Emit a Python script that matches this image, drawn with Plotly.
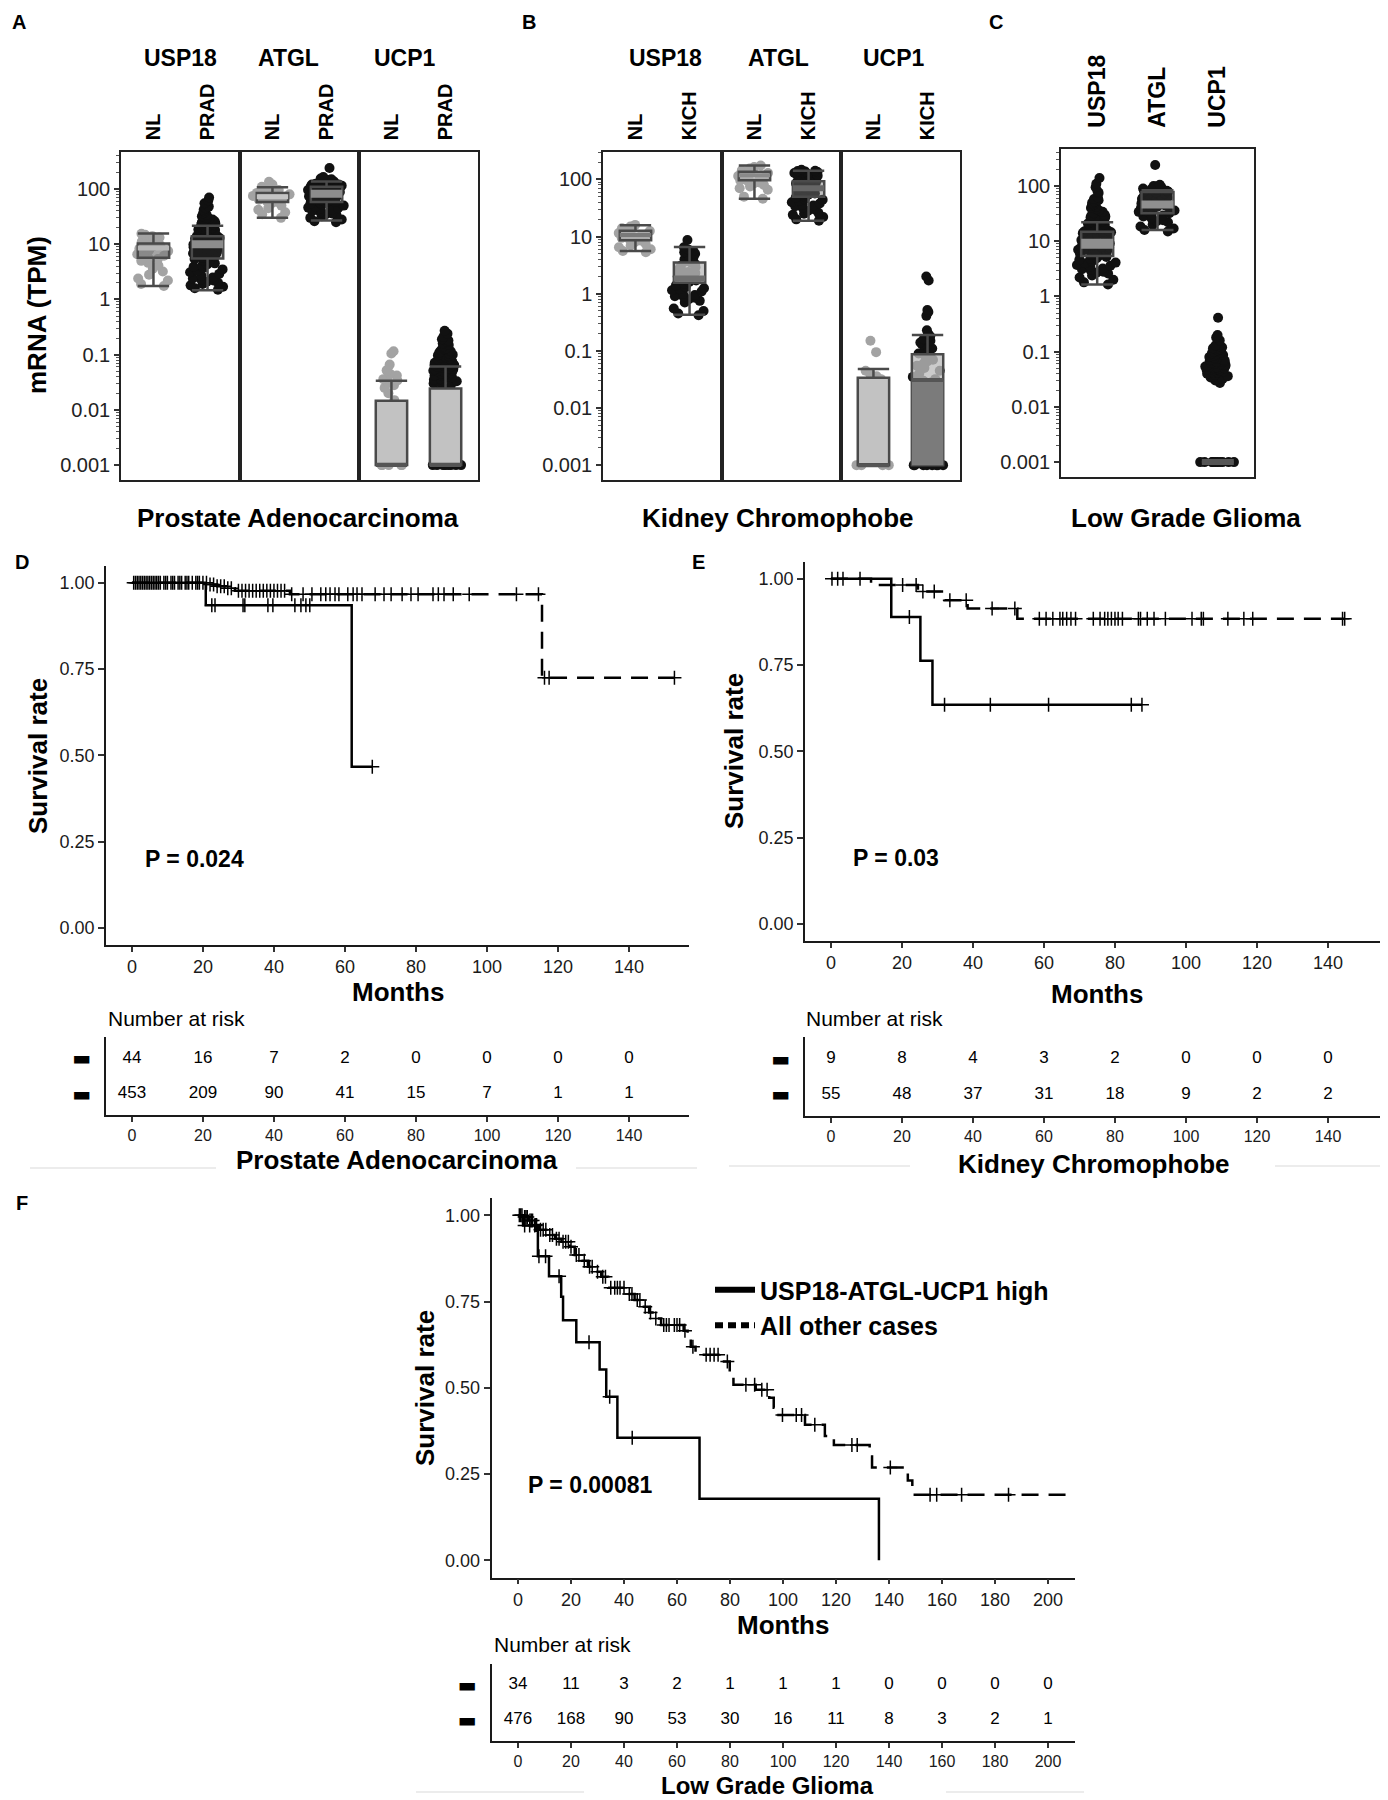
import numpy as np
import plotly.graph_objects as go

W, H = 1388, 1800
FONT = "Liberation Sans, Arial, Helvetica, sans-serif"

# ======================= DATA =======================
# Expression panels (TPM). Box stats = [lower whisker, Q1, median, Q3, upper whisker]
A_USP18_NL_pts = [15.5, 14.8, 14.0, 13.2, 12.5, 12.0, 11.2, 10.5, 10.0, 9.6, 9.2, 8.8, 8.3, 7.9, 7.5, 7.0,
                  6.6, 6.2, 5.8, 5.4, 5.0, 4.6, 4.1, 3.6, 3.2, 2.8, 2.4, 2.2, 1.9, 1.75]
A_USP18_NL_box = [1.75, 5.7, 8.5, 10.3, 15.6]
A_USP18_PRAD_pts = [70, 62, 55, 48, 45, 42, 40, 38, 36, 34, 32, 30, 29, 28, 27, 26, 25, 24, 23, 22,
                    21, 20, 19.5, 19, 18, 17.5, 17, 16, 15.5, 15, 14.5, 14, 13.5, 13, 12.5, 12, 11.5, 11,
                    10.5, 10.2, 10, 9.7, 9.4, 9.1, 8.8, 8.5, 8.2, 8, 7.7, 7.4, 7.1, 6.8, 6.5, 6.2, 6, 5.7,
                    5.4, 5.1, 4.8, 4.5, 4.3, 4.1, 3.9, 3.7, 3.5, 3.3, 3.1, 2.9, 2.7, 2.5, 2.4, 2.3, 2.2,
                    2.1, 2.0, 1.9, 1.8, 1.7, 1.6, 1.5, 12.2, 11.8, 9.9, 8.7, 7.9, 6.9, 14.2, 16.5, 18.5, 5.5]
A_USP18_PRAD_box = [1.46, 5.5, 10.0, 14.0, 21.5]
A_ATGL_NL_pts = [135, 120, 110, 105, 100, 96, 92, 88, 85, 82, 80, 77, 75, 72, 70, 67, 64, 61, 58, 55,
                 50, 45, 42, 38, 35, 30]
A_ATGL_NL_box = [30, 58, 72, 85, 108]
A_ATGL_PRAD_pts = [240, 165, 155, 150, 145, 140, 136, 132, 128, 125, 121, 118, 115, 112, 110, 107, 105,
                   102, 100, 98, 96, 94, 92, 90, 88, 86, 84, 82, 80, 78, 76, 74, 72, 70, 68, 66, 64, 62,
                   60, 58, 56, 54, 52, 50, 48, 46, 44, 42, 40, 38, 36, 34, 32, 30, 28, 26, 25, 130, 120,
                   110, 100, 95, 85, 75, 65, 55, 45, 35]
A_ATGL_PRAD_box = [27, 58, 82, 110, 136]
A_UCP1_NL_pts = [0.115, 0.105, 0.066, 0.052, 0.045, 0.042, 0.038, 0.036, 0.034, 0.031, 0.028, 0.025,
                 0.02, 0.015, 0.01, 0.005, 0.001, 0.001, 0.001, 0.001, 0.001]
A_UCP1_NL_box = [0.001, 0.001, 0.001, 0.0146, 0.0337]
A_UCP1_PRAD_pts = [0.27, 0.24, 0.21, 0.19, 0.18, 0.17, 0.16, 0.15, 0.14, 0.13, 0.125, 0.12, 0.115, 0.11,
                   0.105, 0.1, 0.097, 0.094, 0.09, 0.087, 0.084, 0.081, 0.078, 0.075, 0.072, 0.07, 0.068,
                   0.066, 0.064, 0.062, 0.06, 0.058, 0.056, 0.054, 0.052, 0.05, 0.048, 0.046, 0.044,
                   0.042, 0.04, 0.038, 0.036, 0.034, 0.032, 0.03, 0.028, 0.026, 0.024, 0.022, 0.02,
                   0.035, 0.045, 0.055, 0.065, 0.041, 0.051, 0.061, 0.071, 0.033, 0.039,
                   0.001, 0.001, 0.001, 0.001, 0.001, 0.001, 0.001, 0.001]
A_UCP1_PRAD_box = [0.001, 0.001, 0.001, 0.0245, 0.061]

B_USP18_NL_pts = [16, 15, 14, 13.2, 12.5, 12, 11.5, 11, 10.5, 10, 9.5, 9, 8.5, 8, 7.5, 7, 6.5, 6, 5.6, 5.3]
B_USP18_NL_box = [5.6, 8.6, 10.7, 12.7, 15.8]
B_USP18_KICH_pts = [8.7, 6.5, 6.0, 5.6, 5.3, 5.0, 4.6, 4.3, 4.0, 3.7, 3.5, 3.3, 3.1, 2.9, 2.7, 2.5, 2.4,
                    2.3, 2.2, 2.1, 2.0, 1.9, 1.8, 1.7, 1.6, 1.5, 1.4, 1.3, 1.2, 1.15, 1.1, 1.0, 0.95, 0.9,
                    0.85, 0.8, 0.75, 0.7, 0.55, 0.5, 0.45, 0.42, 5.8, 1.25, 0.88]
B_USP18_KICH_box = [0.43, 1.55, 1.85, 3.5, 6.6]
B_ATGL_NL_pts = [175, 165, 155, 145, 138, 130, 122, 115, 110, 105, 100, 96, 92, 88, 85, 80, 75, 70, 66, 50, 46]
B_ATGL_NL_box = [46, 97, 118, 136, 175]
B_ATGL_KICH_pts = [148, 142, 138, 135, 132, 128, 125, 120, 115, 112, 108, 105, 100, 96, 92, 88, 85, 82,
                   78, 75, 72, 69, 66, 63, 60, 57, 54, 51, 48, 45, 42, 40, 38, 36, 34, 32, 30, 28, 26, 25,
                   24, 22, 20, 19, 140, 130, 118, 98, 44, 35]
B_ATGL_KICH_box = [19, 50, 70, 93, 142]
B_UCP1_NL_pts = [0.15, 0.095, 0.045, 0.04, 0.036, 0.034, 0.032, 0.03, 0.001, 0.001, 0.001, 0.001]
B_UCP1_NL_box = [0.001, 0.001, 0.001, 0.0337, 0.048]
B_UCP1_KICH_pts = [2.0, 1.7, 0.52, 0.48, 0.41, 0.23, 0.2, 0.18, 0.16, 0.15, 0.14, 0.13, 0.12, 0.11, 0.1,
                   0.095, 0.09, 0.085, 0.08, 0.07, 0.065, 0.06, 0.055, 0.05, 0.045, 0.04, 0.035, 0.032,
                   0.03, 0.028, 0.026, 0.025, 0.001, 0.001, 0.001, 0.001, 0.001, 0.001, 0.001, 0.001]
B_UCP1_KICH_box = [0.001, 0.001, 0.031, 0.087, 0.19]

C_USP18_pts = [140, 110, 95, 80, 75, 62, 58, 55, 52, 50, 48, 46, 44, 42, 40, 38, 36, 34, 32, 30, 29, 28,
               27, 26, 25, 24, 23, 22, 21, 20, 19, 18, 17, 16.5, 16, 15.5, 15, 14.5, 14, 13.5, 13, 12.5,
               12, 11.5, 11, 10.5, 10, 9.7, 9.4, 9.1, 8.8, 8.5, 8.2, 7.9, 7.6, 7.3, 7, 6.7, 6.4, 6.1,
               5.8, 5.5, 5.2, 4.9, 4.6, 4.3, 4.0, 3.7, 3.4, 3.2, 3.0, 2.8, 2.6, 2.4, 2.2, 2.0, 1.8, 1.65,
               14.8, 12.8, 11.2, 9.9, 8.9, 7.7, 6.9, 6.2, 5.6, 4.8, 4.1, 3.6, 3.1, 2.7, 18.5, 16.8]
C_USP18_box = [1.65, 5.4, 9.0, 14.8, 22]
C_ATGL_pts = [240, 105, 100, 96, 92, 88, 85, 82, 79, 76, 73, 70, 67, 64, 61, 58, 56, 54, 52, 50, 48, 46,
              44, 42, 40, 38, 36, 34, 32, 30, 28, 26, 24, 22, 20, 18.5, 17, 16, 15, 98, 90, 80, 70, 62,
              55, 47, 41, 35, 29, 23]
C_ATGL_box = [16, 32, 46, 78, 84]
C_UCP1_pts = [0.41, 0.2, 0.18, 0.16, 0.13, 0.125, 0.12, 0.115, 0.11, 0.105, 0.1, 0.097, 0.094, 0.09,
              0.087, 0.084, 0.08, 0.077, 0.074, 0.071, 0.068, 0.065, 0.062, 0.06, 0.058, 0.056, 0.054,
              0.052, 0.05, 0.048, 0.046, 0.044, 0.042, 0.04, 0.038, 0.036, 0.034, 0.032, 0.03, 0.027,
              0.055, 0.05, 0.045, 0.065, 0.07, 0.041, 0.047, 0.053, 0.059, 0.035,
              0.001, 0.001, 0.001, 0.001, 0.001, 0.001, 0.001, 0.001, 0.001, 0.001]
C_UCP1_box = [0.001, 0.001, 0.001, 0.001, 0.001]

LOG_TICKVALS = [0.001, 0.01, 0.1, 1, 10, 100]
LOG_TICKTEXT = ["0.001", "0.01", "0.1", "1", "10", "100"]

# Survival panels: step curves (time in months, survival), censor times
D_high_t = [0, 20.8, 61.9, 67.7]
D_high_s = [1.0, 0.935, 0.467, 0.467]
D_high_c = [22.5, 23.4, 31.3, 31.8, 38.3, 39.7, 45.9, 47.6, 49.0, 50.1, 67.7]
D_other_t = [0, 21.5, 24, 26.5, 29, 44.5, 115.5, 152.8]
D_other_s = [1.0, 0.995, 0.99, 0.984, 0.977, 0.967, 0.725, 0.725]
D_other_c = [0.5, 1, 1.5, 2, 2.5, 3, 3.5, 4, 4.5, 5, 5.5, 6, 6.5, 7, 7.5, 8, 9, 9.5, 10, 11, 11.5, 12,
             13, 13.5, 14, 15, 15.5, 16, 17, 18, 18.5, 19, 20, 21, 22, 23, 24, 25, 26, 27, 28, 30, 31,
             32, 33, 34, 35, 36, 37, 38, 39, 40, 41, 42, 43, 45, 48.2, 50.7, 53.2, 54.6, 55.8, 57.2,
             58.3, 60.8, 62.3, 63.4, 64.8, 68.5, 71.0, 73.0, 76.1, 78.6, 80.6, 84.8, 86.3, 87.9, 90.5,
             95.0, 108.3, 114.5, 116.2, 117.5, 152.8]
D_risk_times = [0, 20, 40, 60, 80, 100, 120, 140]
D_risk_high = [44, 16, 7, 2, 0, 0, 0, 0]
D_risk_other = [453, 209, 90, 41, 15, 7, 1, 1]

E_high_t = [0, 17.0, 25.2, 28.6, 87.6]
E_high_s = [1.0, 0.889, 0.762, 0.635, 0.635]
E_high_c = [22.1, 32.0, 44.9, 61.3, 84.6, 87.6]
E_other_t = [0, 11.3, 24.5, 32, 38.5, 52.5, 144.7]
E_other_s = [1.0, 0.982, 0.963, 0.938, 0.914, 0.884, 0.884]
E_other_c = [0.3, 1.9, 3.4, 8.2, 20.2, 24.0, 25.9, 29.1, 33.5, 38.1, 45.4, 51.8, 58.7, 60.6, 62.5, 64.5,
             65.3, 66.4, 67.6, 68.9, 73.9, 75.8, 77.1, 78.0, 79.0, 80.0, 80.9, 82.1, 86.6, 87.2, 89.1,
             91.0, 94.2, 101.7, 104.3, 104.9, 111.8, 116.3, 118.8, 144.1, 144.7]
E_risk_times = [0, 20, 40, 60, 80, 100, 120, 140]
E_risk_high = [9, 8, 4, 3, 2, 0, 0, 0]
E_risk_other = [55, 48, 37, 31, 18, 9, 2, 2]

F_high_t = [0, 1.9, 7.5, 11.7, 16.3, 17.0, 22.0, 30.8, 33.3, 37.5, 68.5, 136.2]
F_high_s = [1.0, 0.970, 0.881, 0.823, 0.764, 0.696, 0.632, 0.553, 0.474, 0.355, 0.178, 0.0]
F_high_c = [2.5, 4.4, 6.3, 7.9, 10.4, 15.5, 26.8, 34.6, 43.1]
F_other_t = [0, 2, 4, 6.3, 8, 11.3, 14, 16.4, 19.5, 21.4, 24, 26.4, 29, 31.4, 34, 41.5, 44, 47, 49.5,
             51.6, 54, 62.5, 64, 65.2, 67, 76.2, 79.9, 81.3, 89.7, 94.8, 96.5, 97.7, 108.3, 115.8,
             119.2, 132.7, 133.6, 147.1, 148.8, 210]
F_other_s = [1.0, 0.995, 0.985, 0.972, 0.958, 0.943, 0.932, 0.923, 0.909, 0.885, 0.868, 0.851, 0.836,
             0.822, 0.790, 0.772, 0.754, 0.735, 0.718, 0.701, 0.682, 0.665, 0.640, 0.619, 0.596, 0.576,
             0.541, 0.509, 0.494, 0.471, 0.442, 0.421, 0.393, 0.360, 0.334, 0.301, 0.269, 0.231, 0.190,
             0.190]
F_other_c = [0.5, 1, 1.5, 2.5, 3, 3.5, 4.5, 5, 5.5, 6.5, 7, 8.5, 9.5, 10.5, 12, 13, 14.5, 15.5, 17, 18,
             19, 20, 22, 23, 25, 27, 28, 30, 32, 33, 35, 36.5, 37.5, 38.5, 40, 42, 43, 45, 46, 48, 50,
             52, 55, 56, 57, 59, 60, 61, 63, 66, 71, 72.5, 74, 75.5, 79, 86, 89.3, 92, 94, 99.8, 105,
             107, 112, 126, 128, 140.5, 155.5, 158, 167.4, 185.1]
F_risk_times = [0, 20, 40, 60, 80, 100, 120, 140, 160, 180, 200]
F_risk_high = [34, 11, 3, 2, 1, 1, 1, 0, 0, 0, 0]
F_risk_other = [476, 168, 90, 53, 30, 16, 11, 8, 3, 2, 1]

# ======================= HELPERS =======================
def px(x):
    return x / W


def py(y):
    return 1 - y / H


def refs(n):
    return ("x", "y") if n == 1 else (f"x{n}", f"y{n}")


def keys(n):
    return ("xaxis", "yaxis") if n == 1 else (f"xaxis{n}", f"yaxis{n}")


fig = go.Figure()
layout = dict(width=W, height=H, margin=dict(l=0, r=0, t=0, b=0, pad=0),
              paper_bgcolor="white", plot_bgcolor="white", boxmode="overlay",
              font=dict(family=FONT, color="black"))
annotations = []
shapes = []


def ann(text, x, y, size, bold=True, xanchor="center", yanchor="middle", angle=0, **kw):
    d = dict(text=f"<b>{text}</b>" if bold else text, x=px(x), y=py(y), xref="paper", yref="paper",
             showarrow=False, xanchor=xanchor, yanchor=yanchor, textangle=angle,
             font=dict(size=size, family=FONT, color="black"))
    d.update(kw)
    annotations.append(d)


WHISK = "#4a4a4a"
NL_PT = "#a3a3a3"
TU_PT = "#111111"


def add_group(n, pos, pts, stats, ptcol, fill, band, bandw, boxw, lowfill=None):
    xr, yr = refs(n)
    fig.add_trace(go.Box(x=[pos] * len(pts), y=pts, boxpoints="all", jitter=1.0, pointpos=0,
                         width=boxw + 0.16, fillcolor="rgba(0,0,0,0)",
                         line=dict(width=0, color="rgba(0,0,0,0)"),
                         marker=dict(color=ptcol, size=10), xaxis=xr, yaxis=yr,
                         showlegend=False, hoverinfo="skip"))
    lo, q1, med, q3, hi = stats
    fig.add_trace(go.Box(x=[pos], q1=[q1], median=[med], q3=[q3], lowerfence=[lo], upperfence=[hi],
                         width=boxw, whiskerwidth=1, fillcolor=fill,
                         line=dict(color=WHISK, width=2.5), boxpoints=False,
                         xaxis=xr, yaxis=yr, showlegend=False, hoverinfo="skip"))
    if lowfill is not None:
        fig.add_trace(go.Box(x=[pos], q1=[q1], median=[q1], q3=[med], lowerfence=[q1], upperfence=[med],
                             width=boxw, whiskerwidth=0, fillcolor=lowfill,
                             line=dict(color="rgba(0,0,0,0)", width=0), boxpoints=False,
                             xaxis=xr, yaxis=yr, showlegend=False, hoverinfo="skip"))
    fig.add_trace(go.Scatter(x=[pos - boxw / 2, pos + boxw / 2], y=[med, med], mode="lines",
                             line=dict(color=band, width=bandw), xaxis=xr, yaxis=yr,
                             showlegend=False, hoverinfo="skip"))


MINOR_VALS = [k * 10.0 ** d for d in range(-3, 3) for k in range(2, 10)]


def expr_axes(n, x0, x1, ytop, ybot, yrange, cats, catfont, catlen, first):
    xk, yk = keys(n)
    xr, yr = refs(n)
    ncat = len(cats)
    layout[xk] = dict(domain=[px(x0), px(x1)], anchor=yr, range=[0.4, ncat + 0.6], side="top",
                      tickmode="array", tickvals=list(range(1, ncat + 1)),
                      ticktext=[f"<b>{c}</b>" for c in cats], tickangle=-90,
                      tickfont=dict(size=catfont, family=FONT, color="black"),
                      ticks="outside", ticklen=catlen, tickcolor="rgba(0,0,0,0)",
                      showline=True, mirror=True, linecolor="#222", linewidth=1.5,
                      showgrid=False, zeroline=False, fixedrange=True)
    yd = dict(domain=[py(ybot), py(ytop)], anchor=xr, type="log", range=yrange,
              showline=True, mirror=True, linecolor="#222", linewidth=1.5,
              showgrid=False, zeroline=False, tickmode="array",
              tickvals=LOG_TICKVALS, ticktext=LOG_TICKTEXT, fixedrange=True)
    if first:
        yd.update(ticks="outside", ticklen=5, tickwidth=1.5, tickcolor="#333", showticklabels=True,
                  tickfont=dict(size=20, family=FONT, color="#222"),
                  minor=dict(ticks="outside", ticklen=3, tickwidth=1, tickcolor="#555",
                             tickvals=MINOR_VALS))
    else:
        yd.update(ticks="", showticklabels=False)
    layout[yk] = yd


# ---------------- Panel A ----------------
A_RANGE = [-3.27, 2.67]
A_facets = [(113, 232), (232, 351), (351, 470)]
A_data = [(A_USP18_NL_pts, A_USP18_NL_box, A_USP18_PRAD_pts, A_USP18_PRAD_box),
          (A_ATGL_NL_pts, A_ATGL_NL_box, A_ATGL_PRAD_pts, A_ATGL_PRAD_box),
          (A_UCP1_NL_pts, A_UCP1_NL_box, A_UCP1_PRAD_pts, A_UCP1_PRAD_box)]
A_style = [(("rgba(125,125,125,0.7)", "#b8b8b8", 5, None), ("rgba(60,60,60,0.3)", "#8c8c8c", 8, None)),
           (("rgba(140,140,140,0.6)", "#c4c4c4", 5, None), ("rgba(60,60,60,0.3)", "#8c8c8c", 8, None)),
           (("#c2c2c2", "#555555", 4, None), ("#c2c2c2", "#555555", 4, None))]
for i, ((x0, x1), dat, sty) in enumerate(zip(A_facets, A_data, A_style)):
    n = 1 + i
    expr_axes(n, x0, x1, 144, 472, A_RANGE, ["NL", "PRAD"], 20, 6, i == 0)
    add_group(n, 1, dat[0], dat[1], NL_PT, sty[0][0], sty[0][1], sty[0][2], 0.58, sty[0][3])
    add_group(n, 2, dat[2], dat[3], TU_PT, sty[1][0], sty[1][1], sty[1][2], 0.58, sty[1][3])

# ---------------- Panel B ----------------
B_RANGE = [-3.26, 2.48]
B_facets = [(595, 714), (714, 833), (833, 952)]
B_data = [(B_USP18_NL_pts, B_USP18_NL_box, B_USP18_KICH_pts, B_USP18_KICH_box),
          (B_ATGL_NL_pts, B_ATGL_NL_box, B_ATGL_KICH_pts, B_ATGL_KICH_box),
          (B_UCP1_NL_pts, B_UCP1_NL_box, B_UCP1_KICH_pts, B_UCP1_KICH_box)]
B_style = [(("rgba(175,175,175,0.7)", "#7a7a7a", 4, None), ("rgba(190,190,190,0.8)", "#6e6e6e", 6, None)),
           (("rgba(175,175,175,0.7)", "#8a8a8a", 4, None), ("rgba(120,120,120,0.45)", "#666666", 6, None)),
           (("#c2c2c2", "#555555", 4, None), ("rgba(190,190,190,0.8)", "#555555", 4, "#7b7b7b"))]
for i, ((x0, x1), dat, sty) in enumerate(zip(B_facets, B_data, B_style)):
    n = 4 + i
    expr_axes(n, x0, x1, 144, 472, B_RANGE, ["NL", "KICH"], 20, 6, i == 0)
    add_group(n, 1, dat[0], dat[1], NL_PT, sty[0][0], sty[0][1], sty[0][2], 0.58, sty[0][3])
    add_group(n, 2, dat[2], dat[3], TU_PT, sty[1][0], sty[1][1], sty[1][2], 0.58, sty[1][3])

# ---------------- Panel C ----------------
C_RANGE = [-3.27, 2.67]
expr_axes(7, 1053, 1246, 141, 469, C_RANGE, ["USP18", "ATGL", "UCP1"], 23, 15, True)
add_group(7, 1, C_USP18_pts, C_USP18_box, TU_PT, "rgba(60,60,60,0.35)", "#8f8f8f", 10, 0.53)
add_group(7, 2, C_ATGL_pts, C_ATGL_box, TU_PT, "rgba(60,60,60,0.35)", "#8f8f8f", 8, 0.53)
add_group(7, 3, C_UCP1_pts, C_UCP1_box, TU_PT, "#555555", "#555555", 6, 0.53)


# ---------------- Survival panels ----------------
def step_at(t, times, surv):
    i = int(np.searchsorted(np.asarray(times), t, side="right")) - 1
    return surv[max(i, 0)]


DASH = "17px,10px"


def add_km(n, times, surv, cens, dash):
    xr, yr = refs(n)
    fig.add_trace(go.Scatter(x=times, y=surv, mode="lines",
                             line=dict(shape="hv", color="black", width=2.5, dash=dash),
                             xaxis=xr, yaxis=yr, showlegend=False, hoverinfo="skip"))
    fig.add_trace(go.Scatter(x=cens, y=[step_at(c, times, surv) for c in cens], mode="markers",
                             marker=dict(symbol="cross-thin", size=10, color="black",
                                         line=dict(width=1.5, color="black")),
                             xaxis=xr, yaxis=yr, showlegend=False, hoverinfo="skip"))


def km_axes(n, x0, x1, ytop, ybot, xrange, xticks):
    xk, yk = keys(n)
    xr, yr = refs(n)
    layout[xk] = dict(domain=[px(x0), px(x1)], anchor=yr, range=xrange, tickmode="array",
                      tickvals=xticks, ticktext=[str(v) for v in xticks], showline=True,
                      linecolor="#1a1a1a", linewidth=1.5, ticks="outside", ticklen=5, tickwidth=1.5,
                      tickcolor="#333", tickfont=dict(size=18, family=FONT, color="#1a1a1a"),
                      showgrid=False, zeroline=False, fixedrange=True)
    layout[yk] = dict(domain=[py(ybot), py(ytop)], anchor=xr, range=[-0.05, 1.05], tickmode="array",
                      tickvals=[0, 0.25, 0.5, 0.75, 1.0],
                      ticktext=["0.00", "0.25", "0.50", "0.75", "1.00"], showline=True,
                      linecolor="#1a1a1a", linewidth=1.5, ticks="outside", ticklen=6, tickwidth=1.5,
                      tickcolor="#333", tickfont=dict(size=18, family=FONT, color="#1a1a1a"),
                      showgrid=False, zeroline=False, fixedrange=True)


def risk_axes(n, x0, x1, ytop, ybot, xrange, xticks):
    xk, yk = keys(n)
    xr, yr = refs(n)
    layout[xk] = dict(domain=[px(x0), px(x1)], anchor=yr, range=xrange, tickmode="array",
                      tickvals=xticks, ticktext=[str(v) for v in xticks], showline=True,
                      linecolor="#1a1a1a", linewidth=1.5, ticks="outside", ticklen=5, tickwidth=1.5,
                      tickcolor="#333", tickfont=dict(size=16, family=FONT, color="#1a1a1a"),
                      showgrid=False, zeroline=False, fixedrange=True)
    layout[yk] = dict(domain=[py(ybot), py(ytop)], anchor=xr, range=[0.4, 2.6], tickmode="array",
                      tickvals=[1, 2], ticktext=["\u25ac", "\u25ac"], showline=True,
                      linecolor="#1a1a1a", linewidth=1.5, ticks="outside", ticklen=9,
                      tickcolor="rgba(0,0,0,0)",
                      tickfont=dict(size=20, family="DejaVu Sans", color="black"),
                      showgrid=False, zeroline=False, fixedrange=True)


def add_risk(n, times, high, other):
    xr, yr = refs(n)
    for row, vals in ((2, high), (1, other)):
        fig.add_trace(go.Scatter(x=times, y=[row] * len(times), mode="text",
                                 text=[str(v) for v in vals],
                                 textfont=dict(size=17, family=FONT, color="black"),
                                 xaxis=xr, yaxis=yr, showlegend=False, hoverinfo="skip",
                                 cliponaxis=False))


DE_RANGE = [-7.3, 156.9]
F_RANGE = [-10, 210]

# D
km_axes(8, 98, 681, 557.5, 937, DE_RANGE, D_risk_times)
add_km(8, D_other_t, D_other_s, D_other_c, DASH)
add_km(8, D_high_t, D_high_s, D_high_c, "solid")
risk_axes(9, 98, 681, 1029, 1107, DE_RANGE, D_risk_times)
add_risk(9, D_risk_times, D_risk_high, D_risk_other)

# E
km_axes(10, 797, 1380, 553.5, 933, DE_RANGE, E_risk_times)
add_km(10, E_other_t, E_other_s, E_other_c, DASH)
add_km(10, E_high_t, E_high_s, E_high_c, "solid")
risk_axes(11, 797, 1380, 1029, 1108, DE_RANGE, E_risk_times)
add_risk(11, E_risk_times, E_risk_high, E_risk_other)

# F
km_axes(12, 483.5, 1066.5, 1190, 1569.5, F_RANGE, F_risk_times)
add_km(12, F_other_t, F_other_s, F_other_c, DASH)
add_km(12, F_high_t, F_high_s, F_high_c, "solid")
risk_axes(13, 483.5, 1066.5, 1656, 1733, F_RANGE, F_risk_times)
add_risk(13, F_risk_times, F_risk_high, F_risk_other)

# legend for F
fig.add_trace(go.Scatter(x=[None], y=[None], mode="lines", line=dict(color="black", width=6),
                         name="<b>USP18-ATGL-UCP1 high</b>", xaxis="x12", yaxis="y12"))
fig.add_trace(go.Scatter(x=[None], y=[None], mode="lines", line=dict(color="black", width=6, dash="8px,5px"),
                         name="<b>All other cases</b>", xaxis="x12", yaxis="y12"))
layout["showlegend"] = True
layout["legend"] = dict(x=px(702), y=py(1259), xanchor="left", yanchor="top",
                        font=dict(size=25, family=FONT, color="black"), bgcolor="rgba(0,0,0,0)",
                        itemwidth=40, tracegroupgap=0)

# ---------------- Text ----------------
for letter, x, y in (("A", 11, 14), ("B", 521, 14), ("C", 988, 14), ("D", 14, 554), ("E", 690, 554),
                     ("F", 14, 1195)):
    ann(letter, x, y, 20)

genes = ["USP18", "ATGL", "UCP1"]
for g, x in zip(genes, (172, 280, 397)):
    ann(g, x, 50, 23)
for g, x in zip(genes, (657, 770, 886)):
    ann(g, x, 50, 23)

ann("mRNA (TPM)", 29, 307, 26, angle=-90)
ann("Prostate Adenocarcinoma", 290, 510, 26)
ann("Kidney Chromophobe", 770, 510, 26)
ann("Low Grade Glioma", 1178, 510, 26)

for (sx, sy), (mx, my), (nx, ny) in (((30, 748), (389.5, 984), (98, 1010)),
                                     ((726, 743), (1088.5, 986), (796, 1010)),
                                     ((417, 1380), (775, 1617), (484, 1636))):
    ann("Survival rate", sx, sy, 26, angle=-90)
    ann("Months", mx, my, 26)
    ann("Number at risk", nx, ny, 21, bold=False, xanchor="left")

for txt, n, x, y in (("P = 0.024", 8, 3.0, 0.2), ("P = 0.03", 10, 5.6, 0.19), ("P = 0.00081", 12, 3.0, 0.217)):
    xr, yr = refs(n)
    annotations.append(dict(text=f"<b>{txt}</b>", x=x, y=y, xref=xr, yref=yr, showarrow=False,
                            xanchor="left", yanchor="middle",
                            font=dict(size=23, family=FONT, color="black")))

for (a, b, y) in ((22, 208, 1160), (568, 689, 1160), (721, 902, 1158), (1267, 1387, 1158),
                  (408, 576, 1784), (938, 1076, 1784)):
    shapes.append(dict(type="line", xref="paper", yref="paper", x0=px(a), x1=px(b), y0=py(y), y1=py(y),
                       line=dict(color="#e6e6e6", width=1.5)))

ann("Prostate Adenocarcinoma", 389, 1152, 26)
ann("Kidney Chromophobe", 1086, 1156, 26)
ann("Low Grade Glioma", 760, 1777, 24)

layout["annotations"] = annotations
layout["shapes"] = shapes
fig.update_layout(**layout)
fig.write_html("out.html")
